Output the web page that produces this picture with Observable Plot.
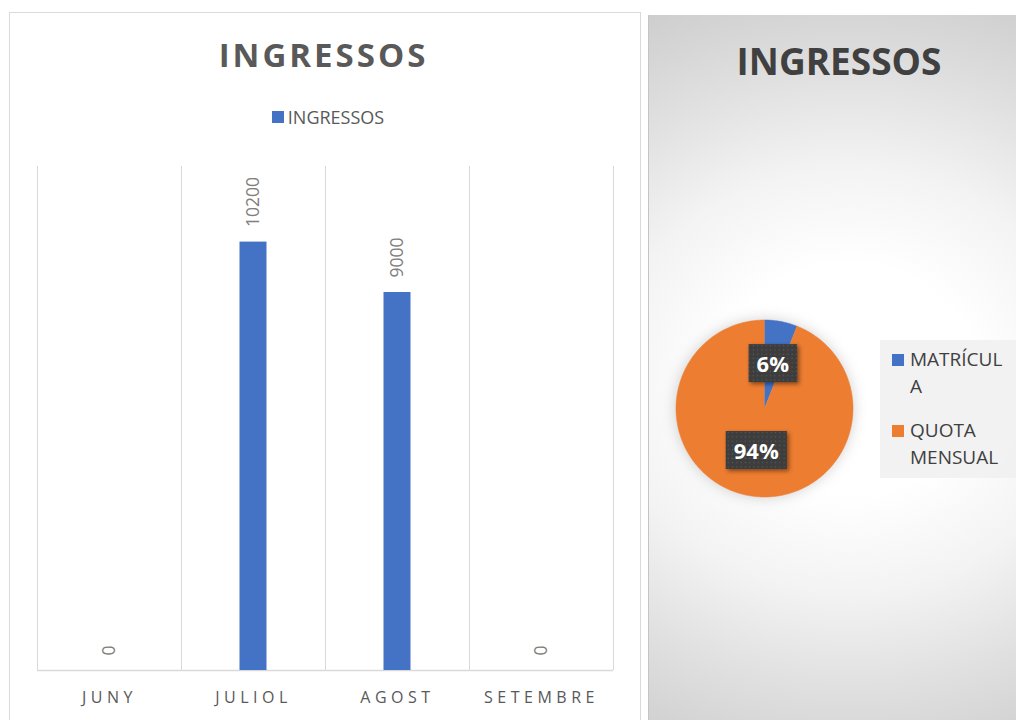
<!DOCTYPE html>
<html><head><meta charset="utf-8">
<script src="https://cdn.jsdelivr.net/npm/d3@7"></script>
<script src="https://cdn.jsdelivr.net/npm/@observablehq/plot@0.6"></script>
<style>
html,body{margin:0;padding:0;width:1016px;height:720px;overflow:hidden;background:#fff;font-family:"Open Sans",sans-serif;}
.abs{position:absolute;}
#leftPanel{left:9px;top:12px;width:630px;height:740px;border:1px solid #d9d9d9;background:#fff;}
#rightPanel{left:648px;top:15px;width:368px;height:705px;border-left:1px solid #c4c4c4;
  background:radial-gradient(460px 410px at 200px 365px,#ffffff 0%,#ffffff 28%,#f3f3f3 52%,#e0e0e0 75%,#cdcdcd 100%);}
#leftTitle{left:9px;width:632px;top:38px;text-align:center;font-weight:700;font-size:33px;line-height:33px;letter-spacing:3px;padding-right:3px;box-sizing:border-box;color:#595959;}
#leftLegend{left:9px;width:632px;top:108px;display:flex;justify-content:center;align-items:center;gap:4px;padding-left:6px;box-sizing:border-box;font-size:18px;line-height:18px;color:#595959;}
.sw{width:12px;height:12px;display:inline-block;}
#rightTitle{left:648px;width:368px;top:42px;text-align:center;font-weight:700;font-size:37px;line-height:37px;padding-left:14px;box-sizing:border-box;color:#404040;}
#pieLegendBox{left:880px;top:340px;width:136px;height:138px;background:rgba(240,240,240,0.85);}
.plt{font-size:19px;line-height:27px;color:#404040;}
#bars g[aria-label="x-axis tick label"] text{letter-spacing:4.5px;}
#pie svg g[aria-label="line"]{filter:drop-shadow(0 0 7px rgba(0,0,0,0.18));}
#pie svg rect.lbox{filter:drop-shadow(2px 2px 2px rgba(0,0,0,0.45));}
</style>
</head>
<body>
<div id="leftPanel" class="abs"></div>
<div id="rightPanel" class="abs"></div>
<div id="leftTitle" class="abs">INGRESSOS</div>
<div id="leftLegend" class="abs"><span class="sw" style="background:#4472c4"></span><span id="legText">INGRESSOS</span></div>
<div id="bars" class="abs" style="left:0;top:150px;"></div>
<div id="rightTitle" class="abs">INGRESSOS</div>
<div id="pie" class="abs" style="left:664px;top:308px;"></div>
<div id="pieLegendBox" class="abs"></div>
<div id="pieLegend"></div>
<script>
// ---- data ----
const months = ["JUNY", "JULIOL", "AGOST", "SETEMBRE"];
const ingressos = [0, 10200, 9000, 0];
const seriesName = "INGRESSOS";
const pieLabels = ["MATRÍCULA", "QUOTA MENSUAL"];
const pieLegendLines = [["MATRÍCUL", "A"], ["QUOTA", "MENSUAL"]];
const piePercents = [6, 94];
const pieColors = ["#4472c4", "#ed7d31"];
const barColor = "#4472c4";

// ---- bar chart ----
const barData = months.map((m, i) => ({mes: m, valor: ingressos[i]}));
const W = 640, mL = 37, mR = 27;
const step = (W - mL - mR) / months.length;
const bars = Plot.plot({
  width: W, height: 570, marginLeft: mL, marginRight: mR, marginTop: 16, marginBottom: 50,
  style: {background: "transparent", fontFamily: "Open Sans", color: "#595959"},
  x: {domain: months, padding: 0, axis: null},
  y: {domain: [0, 12000], axis: null},
  marks: [
    Plot.ruleX(months, {x: d => d, dx: -step / 2, stroke: "#d9d9d9", strokeWidth: 1}),
    Plot.ruleX([months[months.length - 1]], {x: d => d, dx: step / 2, stroke: "#d9d9d9", strokeWidth: 1}),
    Plot.ruleY([0], {stroke: "#d9d9d9", strokeWidth: 1.5}),
    Plot.barY(barData, {x: "mes", y: "valor", fill: barColor, insetLeft: 58.5, insetRight: 58.5}),
    Plot.text(barData, {x: "mes", y: "valor", text: d => String(d.valor), rotate: -90, textAnchor: "start", dy: -15, fill: "#808080", fontSize: 17.5}),
    Plot.axisX({tickSize: 0, tickPadding: 21, fontSize: 16, label: null})
  ]
});
document.getElementById("bars").appendChild(bars);

// ---- pie chart ----
const arcs = d3.pie().sort(null)(piePercents);
const piePts = [];
arcs.forEach((a, i) => {
  piePts.push({k: pieLabels[i], x: 0, y: 0});
  const n = Math.max(2, Math.ceil((a.endAngle - a.startAngle) / (Math.PI / 180)));
  for (let j = 0; j <= n; j++) {
    const t = a.startAngle + (a.endAngle - a.startAngle) * j / n;
    piePts.push({k: pieLabels[i], x: Math.sin(t), y: Math.cos(t)});
  }
});
const pieLab = arcs.map((a, i) => {
  const m = (a.startAngle + a.endAngle) / 2;
  return {k: pieLabels[i], x: 0.5 * Math.sin(m), y: 0.5 * Math.cos(m), t: piePercents[i] + "%"};
});
const ext = 1.13;
const pie = Plot.plot({
  width: 200, height: 200, margin: 0,
  style: {background: "transparent", fontFamily: "Open Sans", overflow: "visible"},
  x: {domain: [-ext, ext], axis: null},
  y: {domain: [-ext, ext], axis: null},
  color: {domain: pieLabels, range: pieColors},
  marks: [
    Plot.line(piePts, {x: "x", y: "y", z: "k", fill: "k", stroke: "k", strokeWidth: 0.5, curve: "linear"}),
    Plot.text(pieLab, {x: "x", y: "y", text: "t", fill: "white", fontWeight: "bold", fontSize: 22})
  ]
});
document.getElementById("pie").appendChild(pie);

// label boxes with dotted dark pattern
const ns = "http://www.w3.org/2000/svg";
const defs = document.createElementNS(ns, "defs");
defs.innerHTML = '<pattern id="dots" width="4.3" height="4.3" patternUnits="userSpaceOnUse"><rect width="4.3" height="4.3" fill="#3d3d3d"/><rect x="1.5" y="1.5" width="1.2" height="1.2" fill="#5a5a5a"/></pattern>';
pie.insertBefore(defs, pie.firstChild);
pie.querySelectorAll('g[aria-label="text"] text').forEach(t => {
  const b = t.getBBox();
  const r = document.createElementNS(ns, "rect");
  r.setAttribute("class", "lbox");
  r.setAttribute("x", b.x - 8);
  r.setAttribute("y", b.y + b.height / 2 - 19);
  r.setAttribute("width", b.width + 16);
  r.setAttribute("height", 38);
  r.setAttribute("fill", "url(#dots)");
  if (t.getAttribute("transform")) r.setAttribute("transform", t.getAttribute("transform"));
  t.parentNode.insertBefore(r, t);
});

// pie legend
const lg = document.getElementById("pieLegend");
const tops = [346, 416.5];
pieLegendLines.forEach((lines, i) => {
  const sq = document.createElement("div");
  sq.className = "abs";
  sq.style.cssText = `left:892px;top:${tops[i] + 8}px;width:12px;height:12px;background:${pieColors[i]}`;
  lg.appendChild(sq);
  const tx = document.createElement("div");
  tx.className = "abs plt";
  tx.style.left = "910px";
  tx.style.top = tops[i] + "px";
  tx.innerHTML = lines.join("<br>");
  lg.appendChild(tx);
});
</script>
</body></html>
